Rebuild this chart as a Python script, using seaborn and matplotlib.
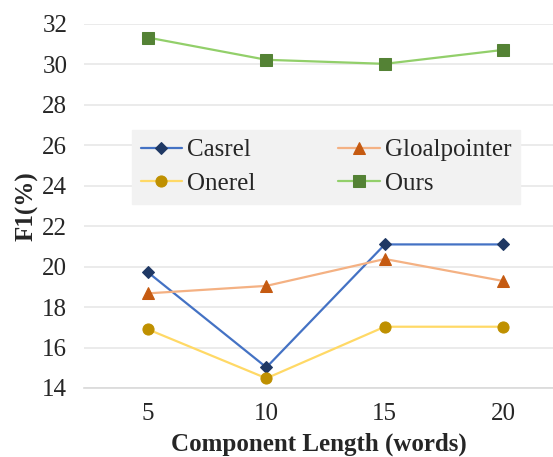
import numpy as np
import pandas as pd
import seaborn as sns
import matplotlib.pyplot as plt

sns.set_style("white")
plt.rcParams['font.family'] = ['Liberation Serif', 'DejaVu Serif']

lengths = ['5', '10', '15', '20']
casrel = [19.72, 15.02, 21.1, 21.1]
gloalpointer = [18.68, 19.05, 20.38, 19.29]
onerel = [16.9, 14.48, 17.03, 17.03]
ours = [31.33, 30.23, 30.03, 30.72]

models = ['Casrel', 'Gloalpointer', 'Onerel', 'Ours']
line_colors = {'Casrel': '#4472C4', 'Gloalpointer': '#F4B183',
               'Onerel': '#FFD966', 'Ours': '#92CF6A'}
marker_colors = {'Casrel': '#1F3864', 'Gloalpointer': '#C55A11',
                 'Onerel': '#BF9000', 'Ours': '#548235'}
marker_shapes = {'Casrel': 'D', 'Gloalpointer': '^', 'Onerel': 'o', 'Ours': 's'}

rows = []
for m, vals in zip(models, [casrel, gloalpointer, onerel, ours]):
    for l, v in zip(lengths, vals):
        rows.append([m, l, v])
df = pd.DataFrame(rows, columns=['model', 'length', 'f1'])

fig = plt.figure(figsize=(5.53, 4.57), dpi=100)
ax = fig.add_axes([84/553, 1-388/457, 1-84/553, (388-24)/457])

handles = {}
for m in models:
    sub = df[df.model == m]
    sns.lineplot(data=sub, x='length', y='f1', ax=ax, color=line_colors[m],
                 marker=marker_shapes[m], linewidth=1.6,
                 markersize=8 if marker_shapes[m] != 'D' else 6.5,
                 markerfacecolor=marker_colors[m], markeredgecolor=marker_colors[m],
                 legend=False)
    handles[m] = ax.lines[-1]

ax.set_ylim(14, 32)
ax.set_yticks(np.arange(14, 33, 2))
ax.set_xlim(-0.54, 3.42)
ax.yaxis.grid(True, color='#e8e8e8', linewidth=1.2)
ax.set_axisbelow(True)
for s in ['top', 'right', 'left']:
    ax.spines[s].set_visible(False)
ax.spines['bottom'].set_color('#d9d9d9')
ax.spines['bottom'].set_linewidth(1.2)
ax.tick_params(axis='both', length=0, labelsize=18, pad=11)
ax.tick_params(axis='y', pad=12)
ax.set_xlabel('Component Length (words)', fontsize=18, fontweight='bold', labelpad=5)
ax.set_ylabel('F1(%)', fontsize=18, fontweight='bold', labelpad=3)

# matplotlib fills legend columns first, so reorder to get row-wise layout
order = ['Casrel', 'Onerel', 'Gloalpointer', 'Ours']
leg = ax.legend(handles=[handles[m] for m in order], labels=order, ncol=2, fontsize=18,
                loc='upper left', bbox_to_anchor=(0.102, 0.516, 0.828, 0.193),
                mode='expand', frameon=True, fancybox=False, framealpha=1,
                facecolor='#f2f2f2', edgecolor='#f2f2f2', borderpad=0.36,
                handlelength=1.65, handletextpad=0.2, labelspacing=0.45,
                columnspacing=1.0, borderaxespad=0)

fig.savefig('out.png', dpi=100)
